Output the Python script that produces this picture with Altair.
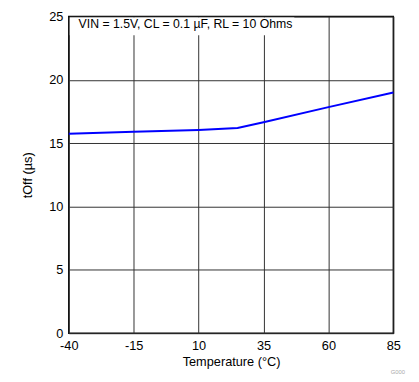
import altair as alt
import pandas as pd

temps = [-40, -15, 10, 25, 35, 60, 85]
toff = [15.75, 15.9, 16.05, 16.2, 16.65, 17.85, 19.0]
x_ticks = [-40, -15, 10, 35, 60, 85]
y_ticks = [0, 5, 10, 15, 20, 25]
note = "VIN = 1.5V, CL = 0.1 µF, RL = 10 Ohms"
tag_text = "G000"

df = pd.DataFrame({"t": temps, "v": toff})
one = pd.DataFrame({"k": [0]})
FONT = "Arial, Liberation Sans"

x = alt.X("t:Q", scale=alt.Scale(domain=[-40, 85], nice=False, zero=False),
          axis=alt.Axis(values=x_ticks, title="Temperature (°C)", ticks=False,
                        domain=False, labelPadding=7, titlePadding=3,
                        labelExpr="'' + datum.value",
                        gridColor="#303030", gridOpacity=1, labelFlush=False))
y = alt.Y("v:Q", scale=alt.Scale(domain=[0, 25], nice=False),
          axis=alt.Axis(values=y_ticks, title="tOff (µs)", ticks=False,
                        domain=False, labelPadding=6, titleX=-35,
                        gridColor="#303030", gridOpacity=1))

line = alt.Chart(df).mark_line(color="#0000FF", strokeWidth=2).encode(x=x, y=y)

box = alt.Chart(one).mark_rect(color="white").encode(
    x=alt.value(1), x2=alt.value(230), y=alt.value(1), y2=alt.value(19))
txt = alt.Chart(one).mark_text(align="left", baseline="middle", fontSize=12.5,
                               font=FONT, fontWeight="normal", color="black").encode(
    x=alt.value(10), y=alt.value(8), text=alt.value(note))
tag = alt.Chart(one).mark_text(align="right", baseline="middle", fontSize=6,
                               font=FONT, fontWeight="normal", color="#aaaaaa").encode(
    x=alt.value(343), y=alt.value(363), text=alt.value(tag_text))

chart = alt.layer(line, box, txt, tag).properties(
    width=331, height=323,
    autosize=alt.AutoSizeParams(type="none"),
    padding={"left": 62, "top": 5, "right": 18, "bottom": 43},
).configure_view(stroke="black", strokeWidth=1.5).configure_axis(
    labelFont=FONT, titleFont=FONT, labelFontSize=13, titleFontSize=13,
    labelColor="black", titleColor="black", titleFontWeight="normal",
    labelFontWeight="normal"
)

chart.save("out.html", embed_options={"renderer": "svg", "actions": False})
